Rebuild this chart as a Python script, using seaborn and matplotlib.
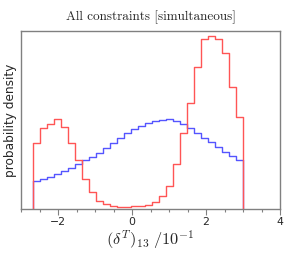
import numpy as np
import pandas as pd
import matplotlib
matplotlib.use('Agg')
import matplotlib.pyplot as plt
import seaborn as sns
from matplotlib.ticker import MultipleLocator

# bin range of the histograms
x_lo, x_hi = -2.67, 3.0
n_bins = 30

# heights (arbitrary density units)
red_counts = [197, 244, 255, 270, 245, 199, 147, 89, 52, 24, 14, 8, 6, 7, 8,
              9, 12, 22, 39, 69, 134, 227, 317, 427, 510, 519, 510, 467, 367, 277]
blue_counts = [84, 91, 97, 105, 114, 123, 135, 147, 157, 169, 182, 197, 214, 229, 240,
               250, 257, 263, 267, 269, 264, 254, 242, 227, 214, 200, 187, 172, 159, 147]

x_ticks = [-2, 0, 2, 4]

edges = np.linspace(x_lo, x_hi, n_bins + 1)
centers = 0.5 * (edges[:-1] + edges[1:])
df = pd.DataFrame({'x': np.concatenate([centers, centers]),
                   'w': red_counts + blue_counts,
                   'series': ['red'] * n_bins + ['blue'] * n_bins})

sns.set_style('white')
plt.rcParams['mathtext.fontset'] = 'cm'

fig = plt.figure(figsize=(2.96, 2.61), dpi=100)
ax = fig.add_axes([0.071, 0.199, 0.875, 0.682])

for name, col in [('blue', '#5555ff'), ('red', '#ff5555')]:
    sub = df[df['series'] == name]
    sns.histplot(data=sub, x='x', weights='w', bins=n_bins, binrange=(x_lo, x_hi),
                 element='step', fill=False, color=col, linewidth=1.0, ax=ax)
    # closing edges of the step outline
    ax.vlines([edges[0], edges[-1]], 0, [sub['w'].iloc[0], sub['w'].iloc[-1]],
              color=col, linewidth=1.0)

ax.set_xlim(-3, 4)
ax.set_ylim(0, 534)
ax.set_xticks(x_ticks)
ax.xaxis.set_minor_locator(MultipleLocator(0.5))
ax.set_yticks([])
ax.tick_params(axis='x', which='major', direction='out', length=4, width=0.8,
               color='#808080', labelsize=7.8, pad=2, bottom=True)
ax.tick_params(axis='x', which='minor', direction='out', length=2.5, width=0.8,
               color='#808080', bottom=True)
for s in ax.spines.values():
    s.set_color('#808080')
    s.set_linewidth(1.0)

ax.set_ylabel('probability density', fontsize=8.7, labelpad=3)
ax.set_xlabel(r'$(\delta^T)_{13}\ /10^{-1}$', fontsize=11.8, labelpad=1)
ax.set_title('All constraints [simultaneous]', fontsize=9.5, family='cmr10', pad=8)

fig.savefig('out.png', dpi=100)
